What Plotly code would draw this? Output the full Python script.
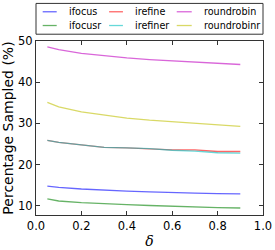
import plotly.graph_objects as go

delta = [0.05, 0.1, 0.2, 0.3, 0.4, 0.5, 0.6, 0.7, 0.8, 0.9]
ifocus = [14.8, 14.5, 14.1, 13.8, 13.6, 13.4, 13.2, 13.1, 13.0, 12.9]
ifocusr = [11.7, 11.2, 10.8, 10.5, 10.3, 10.1, 9.9, 9.8, 9.6, 9.5]
irefine = [25.9, 25.4, 24.8, 24.2, 24.1, 23.9, 23.6, 23.6, 23.2, 23.2]
irefiner = [25.9, 25.4, 24.8, 24.2, 24.1, 23.9, 23.5, 23.3, 22.9, 22.8]
roundrobin = [48.6, 47.9, 47.0, 46.4, 45.9, 45.5, 45.2, 44.9, 44.6, 44.3]
roundrobinr = [35.1, 34.0, 32.8, 32.0, 31.3, 30.8, 30.4, 30.0, 29.7, 29.3]

names = ["ifocus", "ifocusr", "irefine", "irefiner", "roundrobin", "roundrobinr"]
values = [ifocus, ifocusr, irefine, irefiner, roundrobin, roundrobinr]
colors = ["rgba(0,0,255,0.6)", "rgba(0,128,0,0.6)", "rgba(255,0,0,0.6)",
          "rgba(0,191,191,0.6)", "rgba(191,0,191,0.6)", "rgba(191,191,0,0.6)"]

fig = go.Figure()
for name, ys, color in zip(names, values, colors):
    fig.add_trace(go.Scatter(x=delta, y=ys, mode="lines", name=name,
                             line=dict(color=color, width=1.3), showlegend=False))

# manual legend (matplotlib-style, 3 columns, column-major)
col_line = [(0.0295, 0.0912, 0.138), (0.322, 0.383, 0.427), (0.620, 0.686, 0.731)]
row_y = [1.168, 1.089]
for i, (name, color) in enumerate(zip(names, colors)):
    c, r = divmod(i, 2)
    x0, x1, xt = col_line[c]
    y = row_y[r]
    fig.add_shape(type="line", xref="paper", yref="paper", x0=x0, x1=x1, y0=y, y1=y,
                  line=dict(color=color, width=1.3))
    fig.add_annotation(xref="paper", yref="paper", x=xt, y=y, text=name, showarrow=False,
                       xanchor="left", yanchor="middle", font=dict(size=9.6, color="black"))
fig.add_shape(type="rect", xref="paper", yref="paper", x0=0, x1=1, y0=1.039, y1=1.216,
              line=dict(color="#333", width=1))

axis_common = dict(showgrid=False, zeroline=False, ticks="inside", ticklen=4,
                   tickcolor="#333", showline=True, linecolor="#333", linewidth=1,
                   mirror="ticks", automargin=False,
                   tickfont=dict(family="DejaVu Sans", size=11.5, color="black"))

fig.update_layout(
    width=275, height=250,
    margin=dict(l=36, r=12, t=41, b=35),
    paper_bgcolor="white", plot_bgcolor="white",
    font=dict(family="DejaVu Sans", color="black"),
    xaxis=dict(range=[0, 1], tickvals=[0, 0.2, 0.4, 0.6, 0.8, 1.0],
               ticktext=["0.0", "0.2", "0.4", "0.6", "0.8", "1.0"],
               title=dict(text="<i>δ</i>", font=dict(size=14, family="DejaVu Serif"), standoff=4),
               **axis_common),
    yaxis=dict(range=[7.8, 50], tickvals=[10, 20, 30, 40, 50],
               title=dict(text="Percentage Sampled (%)", font=dict(size=14), standoff=3),
               **axis_common),
    showlegend=False,
)
fig.write_html("out.html", config={"displayModeBar": False},
               post_script="document.body.style.margin='0';document.body.style.overflow='hidden';")
